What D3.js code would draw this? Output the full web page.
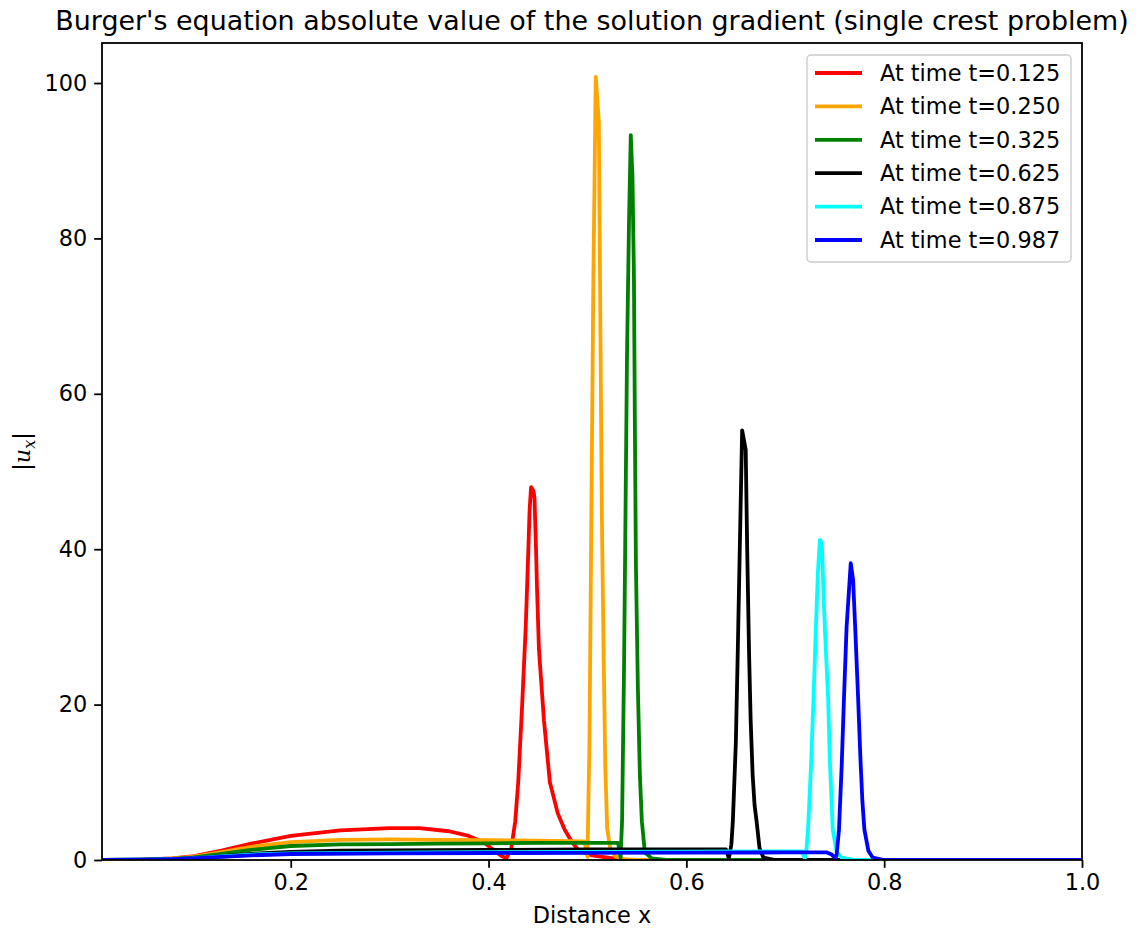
<!DOCTYPE html>
<html>
<head>
<meta charset="utf-8">
<script src="https://cdn.jsdelivr.net/npm/d3@7"></script>
<style>
  body { margin: 0; background: #fff; }
  text { font-family: "DejaVu Sans", sans-serif; fill: #000; }
</style>
</head>
<body>
<svg id="chart"></svg>
<script>
// series data: [x, |u_x|]
var red = [[0.01,0],[0.05,0.05],[0.08,0.2],[0.1,0.45],[0.13,1.2],[0.16,2.1],[0.2,3.1],[0.25,3.8],[0.3,4.1],[0.33,4.1],
  [0.36,3.7],[0.38,3.1],[0.395,2.3],[0.405,1.3],[0.412,0.6],[0.418,0.2],[0.423,1.5],[0.427,5],[0.430,10],[0.434,20],
  [0.4376,30],[0.440,39],[0.4415,45],[0.443,48],[0.4455,47.5],[0.4465,46.5],[0.448,40],[0.449,35],[0.451,27],[0.456,18],
  [0.462,10],[0.470,6],[0.477,3.9],[0.485,2.2],[0.492,1.1],[0.505,0.6],[0.515,0.4],[0.526,0.2],[0.54,0],[1.0,0]];
var orange = [[0.01,0],[0.05,0.05],[0.08,0.2],[0.1,0.4],[0.13,1.0],[0.16,1.7],[0.2,2.3],[0.25,2.6],[0.3,2.65],[0.35,2.6],
  [0.4,2.55],[0.45,2.5],[0.497,2.4],[0.500,0.4],[0.502,15],[0.504,45],[0.506,75],[0.5084,100.8],[0.5115,95],[0.513,70],
  [0.5145,45],[0.516,30],[0.518,12],[0.520,4],[0.523,1.5],[0.528,0.5],[0.535,0.1],[0.55,0],[1.0,0]];
var green = [[0.01,0],[0.05,0.05],[0.08,0.15],[0.1,0.3],[0.13,0.8],[0.16,1.3],[0.2,1.8],[0.25,2.0],[0.3,2.05],[0.35,2.1],
  [0.4,2.15],[0.45,2.2],[0.5,2.2],[0.531,2.2],[0.5335,0.3],[0.535,5],[0.537,25],[0.5385,45],[0.540,65],[0.542,82],
  [0.5438,93.3],[0.5455,88],[0.547,75],[0.548,55],[0.549,38],[0.551,22],[0.553,11],[0.555,5],[0.558,1],[0.565,0.2],
  [0.58,0],[1.0,0]];
var black = [[0.01,0],[0.05,0.03],[0.08,0.1],[0.1,0.2],[0.13,0.5],[0.16,0.8],[0.2,1.05],[0.25,1.2],[0.3,1.25],[0.4,1.3],
  [0.5,1.35],[0.6,1.38],[0.640,1.38],[0.643,0.2],[0.6455,2],[0.647,5],[0.650,15],[0.652,27],[0.654,40],[0.6564,55.3],
  [0.660,52.8],[0.6615,40],[0.6634,26.6],[0.665,18],[0.667,11],[0.669,7],[0.671,5],[0.674,1.5],[0.678,0.3],[0.69,0],[1.0,0]];
var cyan = [[0.01,0],[0.05,0.03],[0.08,0.1],[0.1,0.2],[0.13,0.45],[0.16,0.7],[0.2,0.85],[0.3,0.95],[0.4,1.0],[0.5,1.05],
  [0.6,1.08],[0.7,1.1],[0.717,1.1],[0.7198,0.2],[0.7215,1.5],[0.723,3.9],[0.726,12],[0.7286,21],[0.731,30],[0.733,37],
  [0.735,41.2],[0.737,40.8],[0.739,33],[0.741,27],[0.7433,21],[0.745,13],[0.748,3.9],[0.752,1],[0.757,0.3],[0.77,0],[1.0,0]];
var blue = [[0.01,0],[0.05,0.03],[0.08,0.1],[0.1,0.2],[0.13,0.4],[0.16,0.6],[0.2,0.77],[0.3,0.85],[0.4,0.9],[0.5,0.92],
  [0.6,0.95],[0.7,0.97],[0.742,0.97],[0.747,0.7],[0.751,0.2],[0.752,0.8],[0.7543,3.9],[0.757,12],[0.7594,21],[0.762,30],
  [0.7662,38.2],[0.7686,36],[0.771,29],[0.7736,21],[0.776,13],[0.778,7.5],[0.780,3.9],[0.784,1.2],[0.7885,0.3],[0.80,0],[1.0,0]];

var seriesData = [red, orange, green, black, cyan, blue];
var seriesColors = ["#ff0000", "#ffa500", "#008000", "#000000", "#00ffff", "#0000ff"];
var seriesLabels = ["At time t=0.125", "At time t=0.250", "At time t=0.325",
                    "At time t=0.625", "At time t=0.875", "At time t=0.987"];
var xTicks = [0.2, 0.4, 0.6, 0.8, 1.0];
var yTicks = [0, 20, 40, 60, 80, 100];

// layout (matplotlib at ~161 dpi: 10pt = 22.4px, 12pt = 26.9px)
var width = 1143, height = 928;
var margin = {left: 102, right: 61, top: 43, bottom: 68};
var plotW = width - margin.left - margin.right;
var plotH = height - margin.top - margin.bottom;
var fs = 22.4;
var lw = 3.8;

var svg = d3.select('#chart')
  .attr('width', width)
  .attr('height', height);

var x = d3.scaleLinear()
  .domain([0.0092, 1.0])
  .range([0, plotW]);

var y = d3.scaleLinear()
  .domain([0, 105.15])
  .range([plotH, 0]);

var g = svg.append('g')
  .attr('transform', 'translate(' + [margin.left, margin.top] + ')');

g.append('clipPath').attr('id', 'clip')
  .append('rect').attr('width', plotW).attr('height', plotH);

var line = d3.line()
  .x(function(d) { return x(d[0]); })
  .y(function(d) { return y(d[1]); });

g.append('g').attr('clip-path', 'url(#clip)')
  .selectAll('path')
  .data(seriesData)
  .enter()
  .append('path')
  .attr('d', line)
  .attr('fill', 'none')
  .attr('stroke', function(d, i) { return seriesColors[i]; })
  .attr('stroke-width', lw)
  .attr('stroke-linejoin', 'round')
  .attr('stroke-linecap', 'butt');

// axes
var xAxis = d3.axisBottom(x)
  .tickValues(xTicks)
  .tickFormat(d3.format('.1f'))
  .tickSize(7.8)
  .tickPadding(6);

var yAxis = d3.axisLeft(y)
  .tickValues(yTicks)
  .tickSize(7.8)
  .tickPadding(7);

var xAxisEle = g.append('g')
  .attr('transform', 'translate(0,' + plotH + ')')
  .call(xAxis);

var yAxisEle = g.append('g').call(yAxis);

[xAxisEle, yAxisEle].forEach(function(a) {
  a.select('.domain').remove();
  a.selectAll('.tick line').attr('stroke', '#000').attr('stroke-width', 1.8);
  a.selectAll('.tick text')
    .style('font-family', '"DejaVu Sans", sans-serif')
    .style('font-size', fs + 'px')
    .attr('fill', '#000');
});

// frame
g.append('rect')
  .attr('width', plotW)
  .attr('height', plotH)
  .attr('fill', 'none')
  .attr('stroke', '#000')
  .attr('stroke-width', 1.8);

// labels
svg.append('text')
  .attr('x', margin.left + plotW / 2)
  .attr('y', 30)
  .attr('text-anchor', 'middle')
  .style('font-size', '26.9px')
  .text("Burger's equation absolute value of the solution gradient (single crest problem)");

svg.append('text')
  .attr('x', margin.left + plotW / 2)
  .attr('y', 923)
  .attr('text-anchor', 'middle')
  .style('font-size', fs + 'px')
  .text('Distance x');

var yl = svg.append('text')
  .attr('transform', 'translate(30,' + (margin.top + plotH / 2) + ') rotate(-90)')
  .attr('text-anchor', 'middle')
  .style('font-size', fs + 'px');
yl.append('tspan').text('|');
yl.append('tspan').style('font-style', 'italic').style('font-family', '"DejaVu Serif", serif').text('u');
yl.append('tspan').attr('dy', 5).style('font-size', '16px').style('font-style', 'italic')
  .style('font-family', '"DejaVu Serif", serif').text('x');
yl.append('tspan').attr('dy', -5).text('|');

// legend
var legend = svg.append('g').attr('transform', 'translate(807,55)');
legend.append('rect')
  .attr('width', 264)
  .attr('height', 207)
  .attr('rx', 4)
  .attr('fill', '#fff')
  .attr('fill-opacity', 0.8)
  .attr('stroke', '#cccccc')
  .attr('stroke-width', 1.4);

var item = legend.selectAll('.item')
  .data(seriesLabels)
  .enter()
  .append('g')
  .attr('class', 'item')
  .attr('transform', function(d, i) { return 'translate(0,' + (18 + i * 33.4) + ')'; });

item.append('line')
  .attr('x1', 8).attr('x2', 55)
  .attr('stroke', function(d, i) { return seriesColors[i]; })
  .attr('stroke-width', lw);

item.append('text')
  .attr('x', 73)
  .attr('dy', '0.35em')
  .style('font-size', fs + 'px')
  .text(function(d) { return d; });
</script>
</body>
</html>
